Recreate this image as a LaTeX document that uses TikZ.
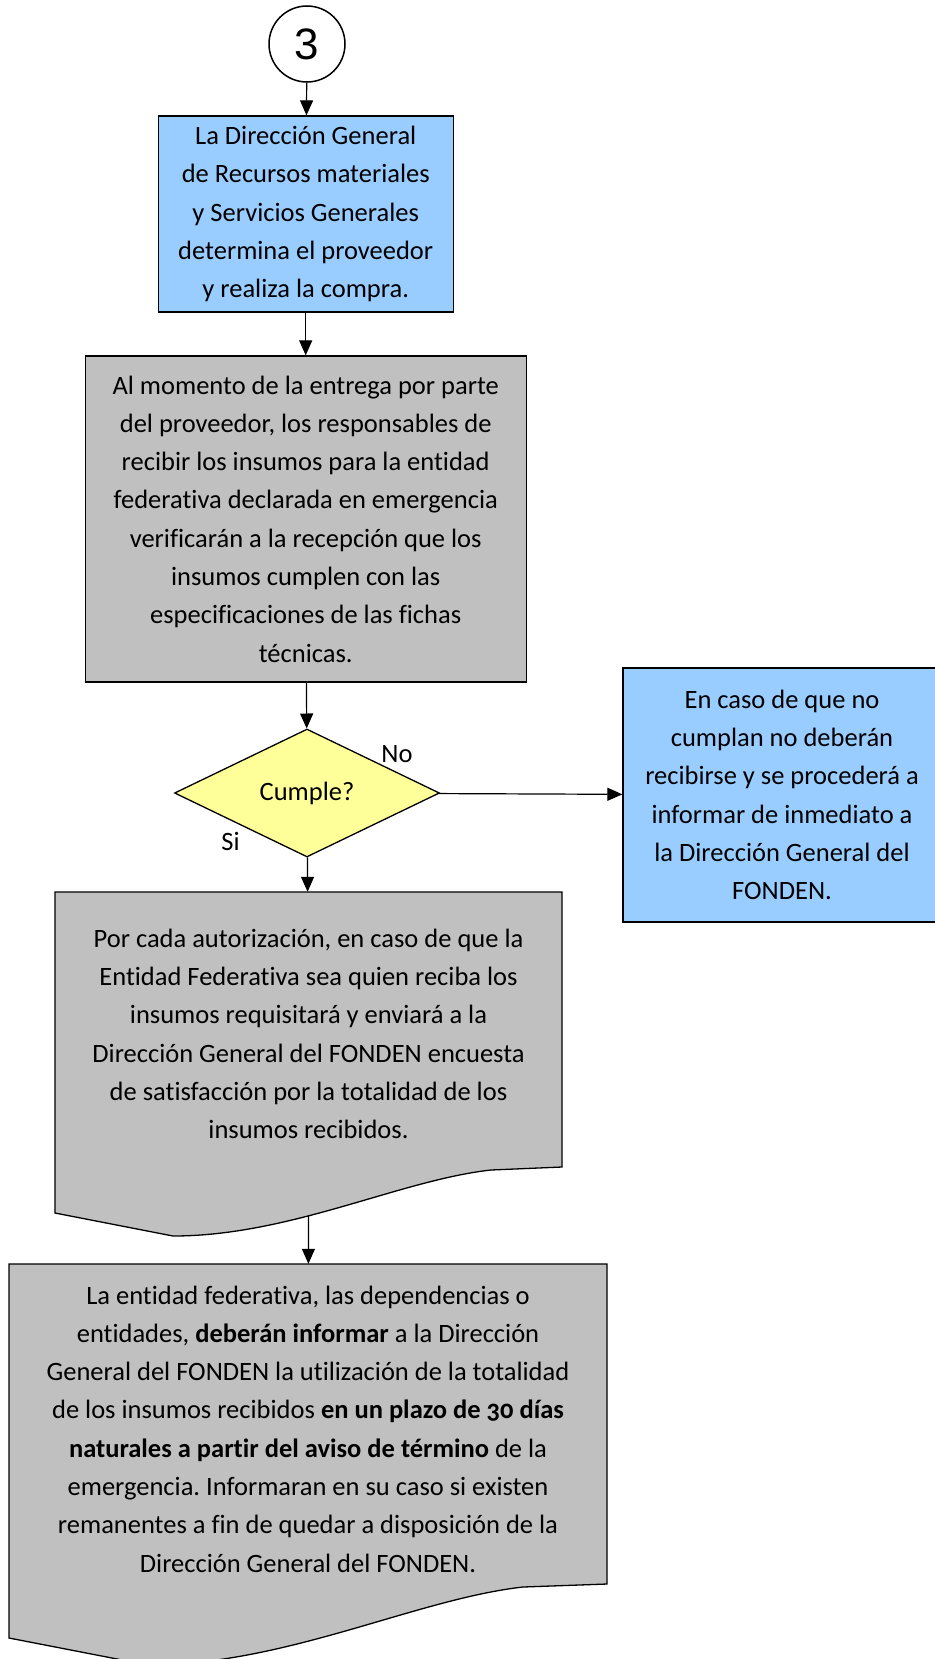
\documentclass[tikz,border=0pt]{standalone}
\usepackage{fontspec}
\setmainfont[Numbers=OldStyle,Ligatures=NoCommon]{Carlito}
\newfontfamily\arialfont{Liberation Sans}
\usepackage{tikz}
\usetikzlibrary{shapes.geometric,arrows.meta}
\frenchspacing
\definecolor{azul}{HTML}{99CCFF}
\definecolor{gris}{HTML}{C0C0C0}
\definecolor{amarillo}{HTML}{FFFF99}
\tikzstyle{arrow} = [-{Triangle[length=15pt,width=13pt]},line width=1.2pt]
\tikzstyle{texto} = [align=center,inner sep=0pt,font=\fontsize{26.5}{38.3}\selectfont]
\tikzstyle{proceso} = [texto,draw,line width=1.3pt]
\tikzstyle{documento} = [draw,line width=1.3pt,fill=gris]
\tikzstyle{decision} = [texto,diamond,draw,line width=1.3pt,fill=amarillo]
\tikzstyle{conector} = [circle,draw,line width=1.5pt,fill=white,inner sep=0pt,font=\arialfont\fontsize{44}{44}\selectfont]

\begin{document}
\begin{tikzpicture}[x=1pt,y=-1pt]
        \useasboundingbox (0,0) rectangle (934,1659);
        \node[conector, minimum size=76pt] at (307,44) (tres) {3};
        \node[proceso, fill=azul, minimum width=295pt, minimum height=196pt] at (305.7,214) (compra) {La Dirección General\\ de Recursos materiales\\ y Servicios Generales\\ determina el proveedor\\ y realiza la compra.};
        \node[proceso, fill=gris, minimum width=441pt, minimum height=326pt] at (305.7,519) (entrega) {Al momento de la entrega por parte\\ del proveedor, los responsables de\\ recibir los insumos para la entidad\\ federativa declarada en emergencia\\ verificarán a la recepción que los\\ insumos cumplen con las\\ especificaciones de las fichas\\ técnicas.};
        \node[decision, minimum width=265pt, minimum height=128pt] at (307,793) (cumple) {Cumple?};
        \node[texto] at (397,754) (no) {No};
        \node[texto] at (230.5,841) (si) {Si};
        \node[proceso, fill=azul, minimum width=318pt, minimum height=254pt] at (782,795) (rechazo) {En caso de que no\\ cumplan no deberán\\ recibirse y se procederá a\\ informar de inmediato a\\ la Dirección General del\\ FONDEN.};

        % documentos
        \draw[documento] (55,892) -- (562,892) -- (562,1167) -- (491,1170) .. controls (400,1180) and (290,1236) .. (173,1236) -- (55,1213) -- cycle;
        \node[texto, minimum width=507pt, minimum height=284pt] at (308.5,1034) (encuesta) {Por cada autorización, en caso de que la\\ Entidad Federativa sea quien reciba los\\ insumos requisitará y enviará a la\\ Dirección General del FONDEN encuesta\\ de satisfacción por la totalidad de los\\ insumos recibidos.};
        \coordinate (salida) at (308.5,1215);
        \draw[documento] (9,1264) -- (607,1264) -- (607,1584) -- (523,1587) .. controls (416,1599) and (286,1665) .. (148,1665) -- (9,1638) -- cycle;
        \node[texto, minimum width=598pt, minimum height=330pt] at (308,1429) (informe) {La entidad federativa, las dependencias o\\ entidades, \textbf{deberán informar} a la Dirección\\ General del FONDEN la utilización de la totalidad\\ de los insumos recibidos \textbf{en un plazo de 30 días}\\ \textbf{naturales a partir del aviso de término} de la\\ emergencia. Informaran en su caso si existen\\ remanentes a fin de quedar a disposición de la\\ Dirección General del FONDEN.};

        \draw[arrow] (tres) -- (compra);
        \draw[arrow] (compra) -- (entrega);
        \draw[arrow] (entrega) -- (cumple);
        \draw[arrow] (cumple) -- (rechazo);
        \draw[arrow] (cumple) -- (encuesta);
        \draw[arrow] (salida) -- (informe);
    \end{tikzpicture}
\end{document}
